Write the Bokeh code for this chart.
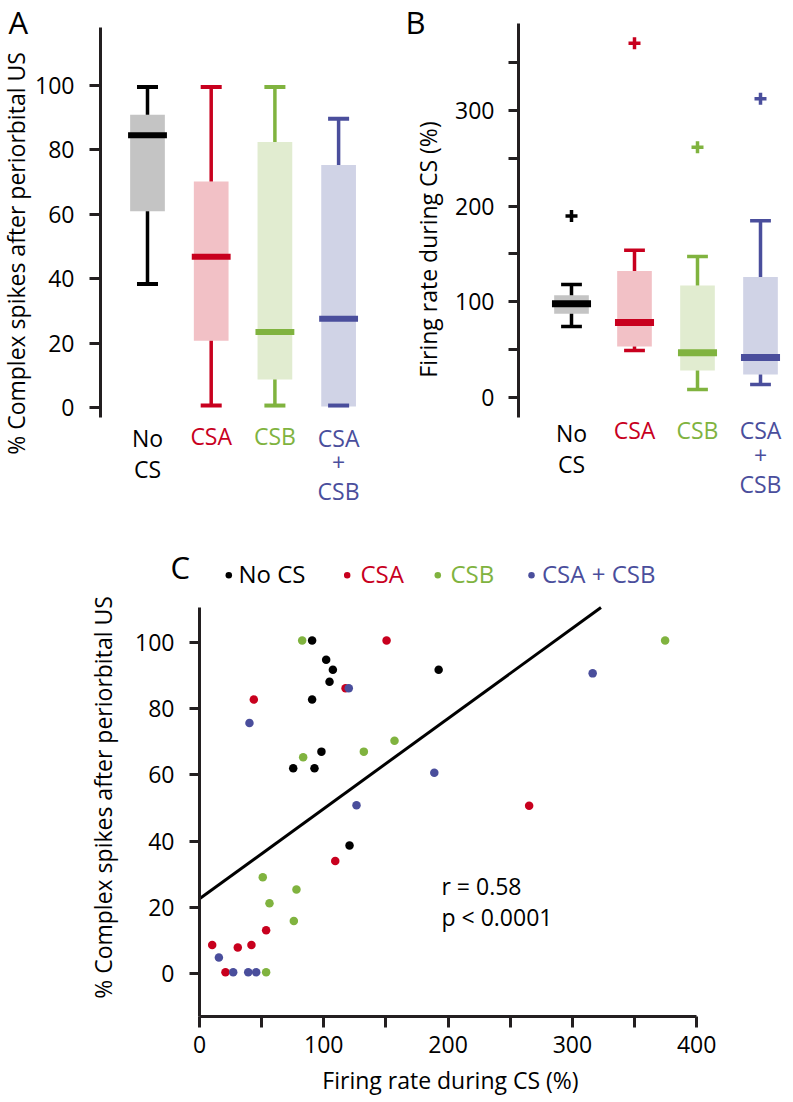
import numpy as np
from bokeh.plotting import figure
from bokeh.models import Range1d, FixedTicker, ColumnDataSource
from bokeh.layouts import column, row
from bokeh.embed import file_html
from bokeh.resources import INLINE
from bokeh.core.properties import value

# ---------------- data ----------------
categories = ["No CS", "CSA", "CSB", "CSA + CSB"]
category_lines = [["No", "CS"], ["CSA"], ["CSB"], ["CSA", "+", "CSB"]]
colors = ["#000000", "#c8001e", "#80b33f", "#4a4e9c"]
fills = ["#c4c4c4", "#f2c1c6", "#e1ecd0", "#d0d3e6"]

# Panel A: % complex spikes after periorbital US (box stats)
a_low = [38.4, 0.7, 0.7, 0.7]
a_q1 = [61.0, 20.8, 8.8, 0.4]
a_med = [84.6, 46.9, 23.5, 27.6]
a_q3 = [90.9, 70.2, 82.5, 75.3]
a_high = [99.5, 99.5, 99.5, 89.7]
a_ticks = [0, 20, 40, 60, 80, 100]

# Panel B: firing rate during CS (%) (box stats + outliers)
b_low = [74.0, 48.9, 8.0, 13.3]
b_q1 = [87.3, 53.1, 27.9, 23.7]
b_med = [97.7, 78.2, 46.4, 41.5]
b_q3 = [106.7, 132.1, 116.9, 125.9]
b_high = [117.9, 153.7, 147.2, 184.7]
b_outlier = [189.7, 370.4, 261.6, 312.2]
b_ticks = [0, 50, 100, 150, 200, 250, 300, 350]
b_tick_labels = [0, 100, 200, 300]

# Panel C: scatter (firing rate, % complex spikes)
nocs_x = [90.6, 101.9, 107.3, 192.4, 104.6, 90.6, 98.1, 75.4, 92.5, 120.7]
nocs_y = [100.5, 94.7, 91.7, 91.7, 88.1, 82.7, 67.0, 62.0, 62.0, 38.7]
csa_x = [150.5, 117.5, 43.7, 265.2, 109.2, 53.6, 10.2, 30.8, 41.8, 20.9]
csa_y = [100.5, 86.1, 82.7, 50.7, 34.0, 13.1, 8.7, 7.9, 8.7, 0.5]
csb_x = [82.6, 374.6, 156.9, 132.2, 83.4, 50.9, 78.0, 56.3, 75.9, 53.6]
csb_y = [100.5, 100.5, 70.3, 67.0, 65.3, 29.1, 25.4, 21.3, 15.9, 0.5]
both_x = [316.3, 120.1, 40.2, 188.9, 126.3, 15.6, 27.1, 39.2, 45.6]
both_y = [90.6, 86.1, 75.6, 60.6, 50.8, 4.9, 0.5, 0.5, 0.5]
fit_intercept = 22.6
fit_slope = 0.272
fit_x = [0, 323]
stats_text = ["r = 0.58", "p < 0.0001"]
c_yticks = [0, 20, 40, 60, 80, 100]
c_xticks = [0, 50, 100, 150, 200, 250, 300, 350, 400]
c_xtick_labels = [0, 100, 200, 300, 400]

ylabel_a = "% Complex spikes after periorbital US"
ylabel_b = "Firing rate during CS (%)"
ylabel_c = "% Complex spikes after periorbital US"
xlabel_c = "Firing rate during CS (%)"

# ---------------- styling ----------------
FONT = "Open Sans"
AX = "#231f20"
FS = "23px"
FSN = 23.0
SHIFT = 0.40   # observed downward drift of glyph text (in em) to compensate


def _clean(p):
    p.grid.visible = False
    p.outline_line_color = None
    p.background_fill_color = "white"
    p.border_fill_color = "white"
    return p


def make_fig(width, height, bl, bt, br, bb, xr, yr, x_axis=True):
    p = figure(width=width, height=height, title=None,
               x_range=Range1d(*xr), y_range=Range1d(*yr),
               output_backend="svg", toolbar_location=None,
               x_axis_location="below" if x_axis else None,
               min_border_left=bl, min_border_top=bt,
               min_border_right=br, min_border_bottom=bb)
    return _clean(p)


def make_strip(left, top, width, height, bb=0):
    """Axis-free figure whose data units are page pixels (y = -page_y)."""
    p = figure(width=width, height=height, title=None,
               x_range=Range1d(left, left + width),
               y_range=Range1d(-(top + height - bb), -top),
               output_backend="svg", toolbar_location=None,
               x_axis_location=None, y_axis_location=None,
               min_border=0, min_border_left=0, min_border_right=0,
               min_border_top=0, min_border_bottom=bb)
    return _clean(p)


def strip_text(p, x, y, text, size=FSN, vertical=False, align="left", color="#000000"):
    d = SHIFT * size
    if vertical:
        xx, yy, ang = x - d, -y, np.pi / 2
    else:
        xx, yy, ang = x, -(y - d), 0.0
    p.text(x=[xx], y=[yy], text=[text], angle=ang, text_align=align,
           text_baseline="alphabetic", text_font=value(FONT),
           text_font_size=f"{size}px", text_color=color)


def style_axis(ax, ticks, labeled, tick_out, standoff):
    ax.ticker = FixedTicker(ticks=ticks)
    ax.major_label_overrides = {t: (str(t) if t in labeled else "") for t in ticks}
    ax.major_tick_out = tick_out
    ax.major_tick_in = 0
    ax.minor_tick_line_color = None
    ax.axis_line_width = 3
    ax.axis_line_color = AX
    ax.major_tick_line_width = 3
    ax.major_tick_line_color = AX
    ax.major_label_text_font = FONT
    ax.major_label_text_font_size = FS
    ax.major_label_text_color = "#000000"
    ax.major_label_standoff = standoff


def boxplot(p, low, q1, med, q3, high, box_w, med_w, cap_w, med_lw, wh_lw, cap_lw):
    xs = np.arange(len(categories), dtype=float)
    src = ColumnDataSource(dict(
        x=xs, low=low, q1=q1, med=med, q3=q3, high=high, color=colors, fill=fills,
        cl=xs - cap_w / 2, cr=xs + cap_w / 2, ml=xs - med_w / 2, mr=xs + med_w / 2))
    p.vbar(x="x", bottom="q1", top="q3", width=box_w, fill_color="fill",
           line_color=None, source=src)
    p.segment(x0="x", y0="q3", x1="x", y1="high", line_color="color", line_width=wh_lw, source=src)
    p.segment(x0="x", y0="low", x1="x", y1="q1", line_color="color", line_width=wh_lw, source=src)
    p.segment(x0="cl", y0="high", x1="cr", y1="high", line_color="color", line_width=cap_lw, source=src)
    p.segment(x0="cl", y0="low", x1="cr", y1="low", line_color="color", line_width=cap_lw, source=src)
    p.segment(x0="ml", y0="med", x1="mr", y1="med", line_color="color", line_width=med_lw, source=src)


def cat_labels(p, offsets, ypx):
    xs, ys, texts, cols = [], [], [], []
    d = SHIFT * FSN
    for i, lines in enumerate(category_lines):
        for j, t in enumerate(lines):
            xs.append(i)
            ys.append(-(offsets[len(lines)][j] - d) / ypx)
            texts.append(t)
            cols.append(colors[i])
    src = ColumnDataSource(dict(x=xs, y=ys, text=texts, color=cols))
    p.text(x="x", y="y", text="text", text_color="color", text_align="center",
           text_baseline="alphabetic", text_font=value(FONT), text_font_size=FS, source=src)


TOP_H = 540

# ---------------- Panel A ----------------
A_X0, A_STEP, A_Y0, A_PX = 147.0, 63.7, 407.3, 3.223   # page px mapping
sA = make_strip(0, 0, 32, TOP_H)
strip_text(sA, 8, 34, "A", size=31)
strip_text(sA, 25, 253, ylabel_a, vertical=True, align="center")

pA = make_fig(354, TOP_H, 68, 0, 0, 0,
              ((100 - A_X0) / A_STEP, (386 - A_X0) / A_STEP),
              ((A_Y0 - TOP_H) / A_PX, A_Y0 / A_PX), x_axis=False)
style_axis(pA.yaxis[0], a_ticks, a_ticks, 11, 15)
pA.yaxis[0].bounds = ((A_Y0 - 416.7) / A_PX, (A_Y0 - 27) / A_PX)
boxplot(pA, a_low, a_q1, a_med, a_q3, a_high, 0.545, 0.61, 0.33, 6, 3.5, 4)
cat_labels(pA, {1: [37.7], 2: [39.4, 70.4], 3: [39.4, 64.0, 92.7]}, A_PX)

# ---------------- Panel B ----------------
B_X0, B_STEP, B_Y0, B_PX = 571.0, 63.0, 396.7, 0.9557
sB = make_strip(386, 0, 64, TOP_H)
strip_text(sB, 405, 34, "B", size=31)
strip_text(sB, 437, 249, ylabel_b, vertical=True, align="center")

pB = make_fig(343, TOP_H, 68, 0, 0, 0,
              ((518 - B_X0) / B_STEP, (793 - B_X0) / B_STEP),
              ((B_Y0 - TOP_H) / B_PX, B_Y0 / B_PX), x_axis=False)
style_axis(pB.yaxis[0], b_ticks, b_tick_labels, 10, 14)
pB.yaxis[0].bounds = ((B_Y0 - 417.3) / B_PX, (B_Y0 - 23) / B_PX)
boxplot(pB, b_low, b_q1, b_med, b_q3, b_high, 0.55, 0.62, 0.33, 7, 3.5, 3.5)
pB.scatter(x=np.arange(len(categories)), y=b_outlier, marker="cross", size=12,
           line_width=3.5, line_color=colors)
cat_labels(pB, {1: [41.6], 2: [45.0, 76.0], 3: [41.6, 67.6, 96.0]}, B_PX)

# ---------------- Panel C ----------------
C_TOP = TOP_H
LEG_B = 591                     # bottom of legend strip / top of scatter frame
X_AX = 1016                     # page y of the x axis
C_X0, C_XPX, C_Y0, C_YPX = 199.0, 1.243, 973.3, 3.316
c_h = 1102 - LEG_B
bb_c = 1102 - X_AX

sCt = make_strip(0, C_TOP, 793, LEG_B - C_TOP)
strip_text(sCt, 170, 579, "C", size=31)
leg_dot_x = [228.3, 346.7, 437.3, 531.0]
leg_txt_x = [238.0, 360.0, 450.0, 541.5]
sCt.scatter(leg_dot_x, [-574.7] * 4, size=6.5, fill_color=colors, line_color=None)
sCt.text(x=leg_txt_x, y=[-(583 - SHIFT * 24)] * 4, text=categories, text_color=colors,
         text_align="left", text_baseline="alphabetic",
         text_font=value(FONT), text_font_size="24px")

sCl = make_strip(0, LEG_B, 125, c_h, bb=bb_c)
strip_text(sCl, 111.5, 797, ylabel_c, vertical=True, align="center")

pC = make_fig(668, c_h, 74, 0, 92, bb_c,
              (0, (701 - C_X0) / C_XPX),
              ((C_Y0 - X_AX) / C_YPX, (C_Y0 - LEG_B) / C_YPX))
style_axis(pC.yaxis[0], c_yticks, c_yticks, 10, 15)
style_axis(pC.xaxis[0], c_xticks, c_xtick_labels, 11, 8)
pC.yaxis[0].bounds = ((C_Y0 - X_AX) / C_YPX, (C_Y0 - 607) / C_YPX)
pC.xaxis[0].bounds = (0, 400)
pC.xaxis[0].axis_label = xlabel_c
pC.xaxis[0].axis_label_text_font = FONT
pC.xaxis[0].axis_label_text_font_size = FS
pC.xaxis[0].axis_label_text_font_style = "normal"
pC.xaxis[0].axis_label_text_color = "#000000"
pC.xaxis[0].axis_label_standoff = 8

fit_y = [fit_intercept + fit_slope * x for x in fit_x]
pC.line(fit_x, fit_y, line_color="black", line_width=3)

for xs_, ys_, col in [(nocs_x, nocs_y, colors[0]), (csa_x, csa_y, colors[1]),
                      (csb_x, csb_y, colors[2]), (both_x, both_y, colors[3])]:
    pC.scatter(xs_, ys_, size=8.5, fill_color=col, line_color=None)

sx = (441 - C_X0) / C_XPX
d = SHIFT * FSN
pC.text(x=[sx, sx], y=[(C_Y0 - 894.3 + d) / C_YPX, (C_Y0 - 926 + d) / C_YPX], text=stats_text,
        text_color="black", text_align="left", text_baseline="alphabetic",
        text_font=value(FONT), text_font_size=FS)

layout = column(row(sA, pA, sB, pB), sCt, row(sCl, pC))
open("out.html", "w").write(file_html(layout, INLINE))
